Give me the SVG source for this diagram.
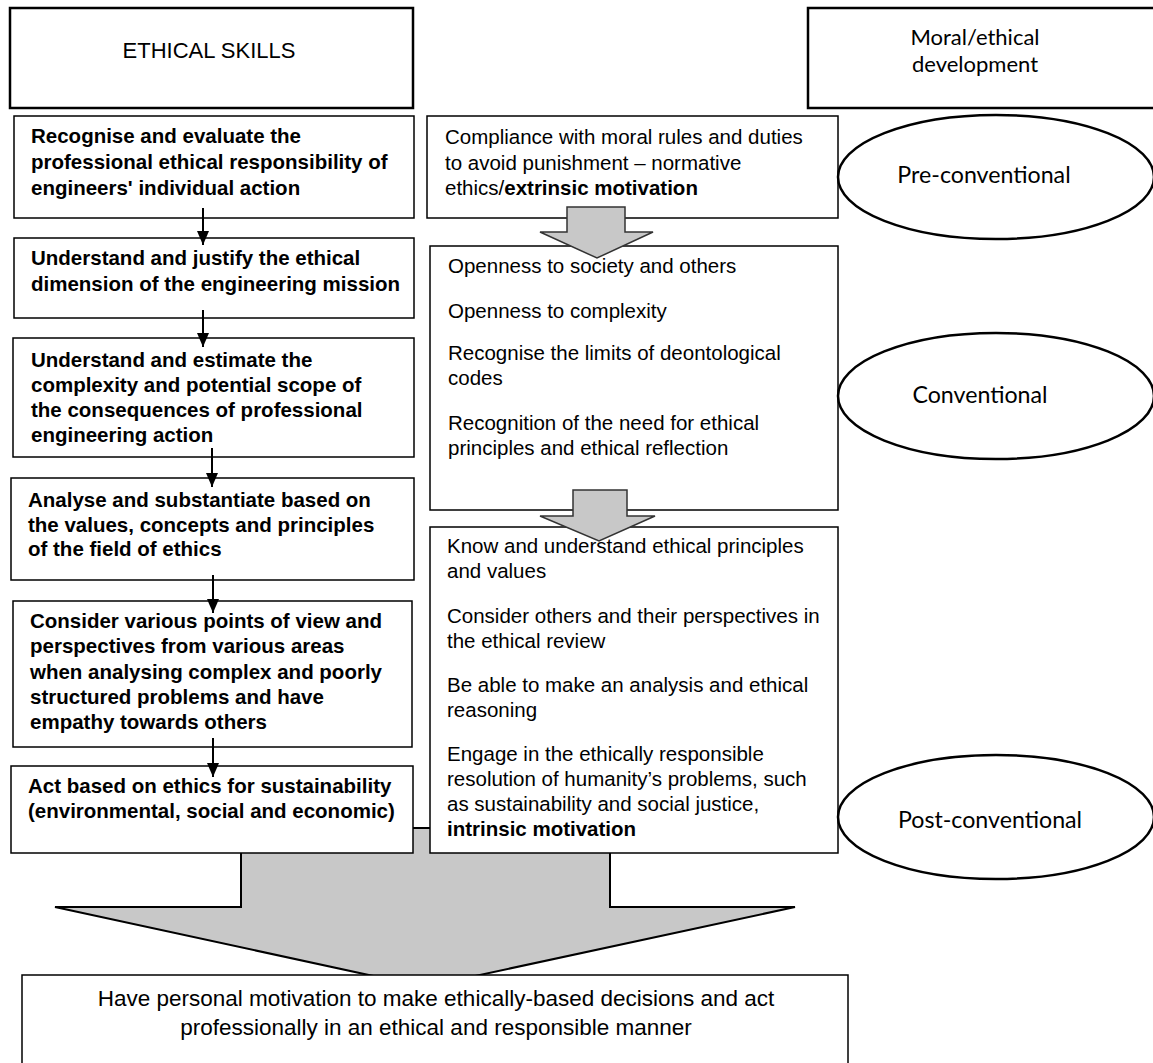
<svg xmlns="http://www.w3.org/2000/svg" width="1153" height="1063" viewBox="0 0 1153 1063">
  <style>
    .box { fill: #ffffff; stroke: #000000; stroke-width: 1.5; }
    .head { fill: #ffffff; stroke: #000000; stroke-width: 2.5; }
    .stage { fill: #ffffff; stroke: #000000; stroke-width: 2.5; }
    .block { fill: #c8c8c8; stroke: #333333; stroke-width: 1.5; stroke-linejoin: miter; }
    .big { fill: #c8c8c8; stroke: #000000; stroke-width: 2; stroke-linejoin: miter; }
    .link { stroke: #000000; stroke-width: 2; fill: none; }
    text { font-family: "Liberation Sans", Arial, sans-serif; fill: #000000; }
    .b { font-size: 20.5px; font-weight: bold; }
    .r { font-size: 20.5px; }
    .out { font-size: 22.5px; }
    .title { font-size: 22px; }
    .cal { font-family: Lato, "Open Sans", sans-serif; font-size: 22px; }
    .stg { font-family: Lato, "Open Sans", sans-serif; font-size: 23.2px; }
  </style>
  <defs>
    <marker id="tip" markerUnits="userSpaceOnUse" markerWidth="14" markerHeight="12" refX="14" refY="6" orient="auto">
      <path d="M0,0 L14,6 L0,12 z" fill="#000000"/>
    </marker>
  </defs>

  <!-- large merge arrow, drawn beneath the boxes -->
  <g id="merge-arrow">
    <polygon class="big" points="241,828 610,828 610,907 795,907 424,987 55,907 241,907"/>
  </g>

  <!-- column headers -->
  <g id="ethical-skills">
    <rect class="head" x="10" y="8" width="403" height="100"/>
    <text class="title" x="209" y="58" text-anchor="middle">ETHICAL SKILLS</text>
  </g>
  <g id="moral-development">
    <rect class="head" x="808" y="8" width="360" height="100"/>
    <text class="cal" x="975" y="45" text-anchor="middle">Moral/ethical</text>
    <text class="cal" x="975" y="72" text-anchor="middle">development</text>
  </g>

  <!-- ethical skills column -->
  <g id="skill-1">
    <rect class="box" x="14" y="116" width="400" height="102"/>
    <text class="b" x="31" y="143">Recognise and evaluate the</text>
    <text class="b" x="31" y="169">professional ethical responsibility of</text>
    <text class="b" x="31" y="195">engineers' individual action</text>
  </g>
  <g id="skill-2">
    <rect class="box" x="14" y="238" width="400" height="80"/>
    <text class="b" x="31" y="265">Understand and justify the ethical</text>
    <text class="b" x="31" y="291">dimension of the engineering mission</text>
  </g>
  <g id="skill-3">
    <rect class="box" x="13" y="338" width="401" height="119"/>
    <text class="b" x="31" y="367">Understand and estimate the</text>
    <text class="b" x="31" y="392">complexity and potential scope of</text>
    <text class="b" x="31" y="417">the consequences of professional</text>
    <text class="b" x="31" y="442">engineering action</text>
  </g>
  <g id="skill-4">
    <rect class="box" x="11" y="478" width="403" height="102"/>
    <text class="b" x="28" y="507">Analyse and substantiate based on</text>
    <text class="b" x="28" y="532">the values, concepts and principles</text>
    <text class="b" x="28" y="556">of the field of ethics</text>
  </g>
  <g id="skill-5">
    <rect class="box" x="13" y="601" width="399" height="146"/>
    <text class="b" x="30" y="628">Consider various points of view and</text>
    <text class="b" x="30" y="653">perspectives from various areas</text>
    <text class="b" x="30" y="679">when analysing complex and poorly</text>
    <text class="b" x="30" y="704">structured problems and have</text>
    <text class="b" x="30" y="729">empathy towards others</text>
  </g>
  <g id="skill-6">
    <rect class="box" x="11" y="766" width="402" height="87"/>
    <text class="b" x="28" y="793">Act based on ethics for sustainability</text>
    <text class="b" x="28" y="818">(environmental, social and economic)</text>
  </g>

  <!-- moral development column -->
  <g id="level-pre">
    <rect class="box" x="427" y="116" width="411" height="102"/>
    <text class="r" x="445" y="144">Compliance with moral rules and duties</text>
    <text class="r" x="445" y="170">to avoid punishment – normative</text>
    <text class="r" x="445" y="195">ethics/<tspan font-weight="bold">extrinsic motivation</tspan></text>
  </g>
  <g id="level-conv">
    <rect class="box" x="430" y="246" width="408" height="264"/>
    <text class="r" x="448" y="273">Openness to society and others</text>
    <text class="r" x="448" y="318">Openness to complexity</text>
    <text class="r" x="448" y="360">Recognise the limits of deontological</text>
    <text class="r" x="448" y="385">codes</text>
    <text class="r" x="448" y="430">Recognition of the need for ethical</text>
    <text class="r" x="448" y="455">principles and ethical reflection</text>
  </g>
  <g id="level-post">
    <rect class="box" x="430" y="527" width="408" height="326"/>
    <text class="r" x="447" y="553">Know and understand ethical principles</text>
    <text class="r" x="447" y="578">and values</text>
    <text class="r" x="447" y="623">Consider others and their perspectives in</text>
    <text class="r" x="447" y="648">the ethical review</text>
    <text class="r" x="447" y="692">Be able to make an analysis and ethical</text>
    <text class="r" x="447" y="717">reasoning</text>
    <text class="r" x="447" y="761">Engage in the ethically responsible</text>
    <text class="r" x="447" y="786">resolution of humanity’s problems, such</text>
    <text class="r" x="447" y="811">as sustainability and social justice,</text>
    <text class="r" x="447" y="836" font-weight="bold">intrinsic motivation</text>
  </g>

  <!-- stage ellipses -->
  <g id="stage-pre">
    <ellipse class="stage" cx="996" cy="177" rx="158" ry="62"/>
    <text class="stg" x="984" y="183" text-anchor="middle">Pre-conventional</text>
  </g>
  <g id="stage-conv">
    <ellipse class="stage" cx="996" cy="396" rx="158" ry="63"/>
    <text class="stg" x="980" y="403" text-anchor="middle">Conventional</text>
  </g>
  <g id="stage-post">
    <ellipse class="stage" cx="996" cy="817" rx="158" ry="62"/>
    <text class="stg" x="990" y="828" text-anchor="middle">Post-conventional</text>
  </g>

  <!-- outcome -->
  <g id="outcome">
    <rect class="box" x="22" y="975" width="826" height="100"/>
    <text class="out" x="436" y="1006" text-anchor="middle">Have personal motivation to make ethically-based decisions and act</text>
    <text class="out" x="436" y="1035" text-anchor="middle">professionally in an ethical and responsible manner</text>
  </g>

  <!-- connectors -->
  <g id="connectors">
    <line class="link" x1="203" y1="208" x2="203" y2="245" marker-end="url(#tip)"/>
    <line class="link" x1="203" y1="310" x2="203" y2="347" marker-end="url(#tip)"/>
    <line class="link" x1="212" y1="448" x2="212" y2="487" marker-end="url(#tip)"/>
    <line class="link" x1="213" y1="575" x2="213" y2="613" marker-end="url(#tip)"/>
    <line class="link" x1="213" y1="738" x2="213" y2="777" marker-end="url(#tip)"/>
    <polygon class="block" points="567,207 625,207 625,232 653,232 597,258 540,232 567,232"/>
    <polygon class="block" points="573,490 627,490 627,516 655,516 599,541 540,516 573,516"/>
  </g>
</svg>
